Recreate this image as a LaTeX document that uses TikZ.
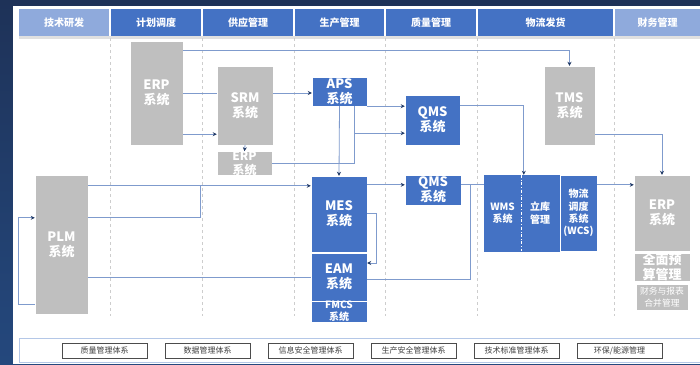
\documentclass[tikz,border=0pt]{standalone}
\usepackage{fontspec}
\setmainfont{Noto Sans CJK SC}
\usepackage{tikz}
\usetikzlibrary{arrows.meta, positioning, calc}
\definecolor{bgtop}{RGB}{30, 50, 88}
\definecolor{bgbot}{RGB}{36, 72, 125}
\definecolor{hdrblue}{RGB}{68, 114, 196}
\definecolor{hdrlight}{RGB}{143, 170, 220}
\definecolor{sysblue}{RGB}{68, 114, 196}
\definecolor{sysgray}{RGB}{191, 191, 191}
\definecolor{linecol}{RGB}{127, 155, 205}
\definecolor{arrnavy}{RGB}{31, 56, 100}
\definecolor{lanegray}{RGB}{205, 205, 205}
\definecolor{barblue}{RGB}{180, 199, 231}

\tikzset{
  hdr/.style={fill=hdrblue, text=white, font=\fontsize{10}{12}\selectfont\bfseries, minimum height=27pt, inner sep=0pt},
  hdrlt/.style={hdr, fill=hdrlight},
  graybox/.style={fill=sysgray, draw=white, line width=0.4pt, text=white, inner sep=0pt, align=center, font=\fontsize{13}{15}\selectfont\bfseries},
  bluebox/.style={graybox, fill=sysblue},
  smalltxt/.style={font=\fontsize{10}{12.3}\selectfont\bfseries},
  conn/.style={draw=linecol, line width=0.8pt},
  arr/.style={-{Stealth[length=4pt, width=4pt, color=arrnavy]}},
  lane/.style={draw=lanegray, dashed, line width=0.5pt},
  legendbox/.style={draw=black!70, fill=white, minimum width=85pt, minimum height=15pt, inner sep=0pt, font=\fontsize{8}{9}\selectfont, text=black!75}
}

\begin{document}
\begin{tikzpicture}[x=1pt, y=-1pt]
  \useasboundingbox (0,0) rectangle (700,364);

  % Background
  \shade[top color=bgtop, bottom color=bgbot] (0,0) rectangle (700,364);
  \fill[white] (13,6) rectangle (700,364);
  \fill[black!12] (19,36) rectangle (700,39);

  % Header row
  \node[hdrlt, minimum width=90pt] (hRD) at (64, 22.5) {技术研发};
  \node[hdr, minimum width=90pt] (hPlan) at (156, 22.5) {计划调度};
  \node[hdr, minimum width=90pt] (hSup) at (248, 22.5) {供应管理};
  \node[hdr, minimum width=89pt] (hProd) at (339.5, 22.5) {生产管理};
  \node[hdr, minimum width=90pt] (hQual) at (431, 22.5) {质量管理};
  \node[hdr, minimum width=135pt] (hLog) at (545.5, 22.5) {物流发货};
  \node[hdrlt, minimum width=85pt] (hFin) at (657.5, 22.5) {财务管理};

  % Lanes
  \draw[lane] (110,38) -- (110,316);
  \draw[lane] (202,38) -- (202,316);
  \draw[lane] (294,38) -- (294,316);
  \draw[lane] (385,38) -- (385,316);
  \draw[lane] (477,38) -- (477,316);
  \draw[lane] (614,38) -- (614,316);

  % Systems
  \node[graybox, minimum width=53pt, minimum height=104pt] (erpA) at (156.5, 93) {ERP\\系统};
  \node[graybox, minimum width=56pt, minimum height=79pt] (srm) at (245, 105.5) {SRM\\系统};
  \node[graybox, minimum width=55pt, minimum height=21pt, font=\fontsize{12}{14}\selectfont\bfseries] (erpB) at (244.5, 163.5) {ERP\\系统};
  \node[bluebox, minimum width=55pt, minimum height=29pt] (aps) at (339.5, 91.5) {APS\\系统};
  \node[bluebox, minimum width=55pt, minimum height=50pt] (qmsA) at (432.5, 120) {QMS\\系统};
  \node[graybox, minimum width=51pt, minimum height=79pt] (tms) at (569.5, 105.5) {TMS\\系统};
  \node[graybox, minimum width=53pt, minimum height=139pt] (plm) at (61.5, 244.5) {PLM\\系统};
  \node[bluebox, minimum width=56pt, minimum height=76pt] (mes) at (339, 214) {MES\\系统};
  \node[bluebox, minimum width=56pt, minimum height=48pt] (eam) at (339, 277) {EAM\\系统};
  \node[bluebox, smalltxt, minimum width=56pt, minimum height=21pt] (fmcs) at (339, 311.5) {FMCS\\系统};
  \node[bluebox, minimum width=56pt, minimum height=30pt] (qmsB) at (433, 190) {QMS\\系统};
  \node[bluebox, smalltxt, draw=sysblue, minimum width=37pt, minimum height=76pt] (wms) at (502.5, 213) {WMS\\系统};
  \node[bluebox, smalltxt, draw=sysblue, minimum width=38pt, minimum height=76pt] (lk) at (540, 213) {立库\\管理};
  \node[bluebox, smalltxt, minimum width=37pt, minimum height=76pt] (wcs) at (578.5, 213) {物流\\调度\\系统\\(WCS)};
  \draw[white, dash dot, line width=0.6pt] (wms.north east) -- (wms.south east);
  \node[graybox, minimum width=56pt, minimum height=76pt] (erpC) at (662, 213) {ERP\\系统};
  \node[graybox, minimum width=56pt, minimum height=28pt] (budget) at (662, 267) {全面预\\算管理};
  \node[graybox, minimum width=52pt, minimum height=26pt, font=\fontsize{8.8}{11.5}\selectfont] (report) at (662, 297) {财务与报表\\合并管理};

  % Connectors
  \coordinate (jA) at ($(aps.south east)+(-13,27)$);
  \coordinate (jB) at ($(plm.north east)+(112,11)$);
  \coordinate (jC) at ($(qmsB.north east)+(9,10)$);
  \draw[conn, arr] ([yshift=-10pt]erpA.north east) -| (tms.north);
  \draw[conn] (erpA.east) -- (erpA.east -| srm.west);
  \draw[conn, arr] (srm.east |- erpA.east) -- (aps.west |- erpA.east);
  \draw[conn, arr] ([yshift=11pt]erpA.south east) coordinate (e1) -- (e1 -| srm.west);
  \draw[conn, arr] (srm.south) -- (erpB.north);
  \draw[conn, arr] (erpB.east) -| (jA) -- (jA -| qmsA.west);
  \draw[conn] (aps.south -| jA) -- (jA);
  \draw[conn, arr] (aps.south east) -- (aps.south east -| qmsA.west);
  \draw[conn, arr] (aps.south) -- (mes.north);
  \draw[conn, arr] ([yshift=-11pt]qmsA.north east) -| ([xshift=3pt]lk.north west);
  \draw[conn, arr] ([yshift=11pt]tms.south east) -| (erpC.north);
  \draw[conn, arr] ([yshift=-11pt]plm.north east) coordinate (p1) -- (p1 -| mes.west);
  \draw[conn] ([yshift=-43pt]plm.north east) -| (jB);
  \draw[conn] (plm.east |- eam.west) -- (eam.west);
  \draw[conn, arr] ([yshift=10pt]plm.south west) -- ++(-16,0) |- ([yshift=-43pt]plm.north west);
  \draw[conn, arr] ([yshift=1pt]mes.east) -- ++(9,0) |- ([yshift=14pt]eam.east);
  \draw[conn, arr] ([yshift=-9pt]mes.north east) coordinate (m1) -- (m1 -| qmsB.west);
  \draw[conn] ([yshift=-10pt]qmsB.north east) coordinate (q1) -- (q1 -| wms.west);
  \draw[conn] ([yshift=-2pt]eam.east) -| (jC);
  \draw[conn, arr] ([yshift=-10pt]wcs.north east) coordinate (w1) -- (w1 -| erpC.west);

  % Bottom bar
  \draw[barblue, line width=0.8pt] (701,338) -- (19,338) -- (19,362) -- (701,362);
  \node[legendbox] (lgA) at (104.5, 350.5) {质量管理体系};
  \node[legendbox] (lgB) at (207.5, 350.5) {数据管理体系};
  \node[legendbox] (lgC) at (310.5, 350.5) {信息安全管理体系};
  \node[legendbox] (lgD) at (413.5, 350.5) {生产安全管理体系};
  \node[legendbox] (lgE) at (516.5, 350.5) {技术标准管理体系};
  \node[legendbox] (lgF) at (619.5, 350.5) {环保/能源管理};
\end{tikzpicture}
\end{document}
